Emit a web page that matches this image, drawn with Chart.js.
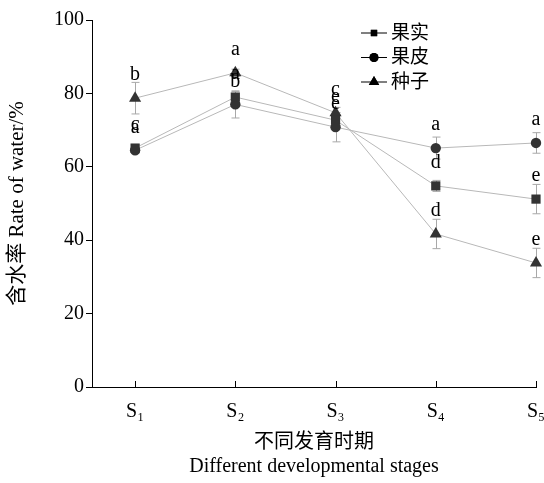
<!DOCTYPE html>
<html>
<head>
<meta charset="utf-8">
<script src="https://cdn.jsdelivr.net/npm/chart.js@4"></script>
<style>
  body { margin: 0; background: #fff; }
  #wrap { width: 544px; height: 483px; }
</style>
</head>
<body>
<div id="wrap"><canvas id="chart"></canvas></div>
<script>
// Data
const stages = ['S₁', 'S₂', 'S₃', 'S₄', 'S₅'];
const seriesNames = ['果实', '果皮', '种子'];
const fruit = [65.1, 79.0, 72.7, 54.8, 51.2];
const fruitErr = [1.0, 1.5, 1.5, 1.5, 4.0];
const fruitLetters = ['c', 'a', 'e', 'd', 'e'];
const peel = [64.5, 77.0, 70.8, 65.1, 66.5];
const peelErr = [0.8, 3.7, 4.0, 3.0, 2.8];
const peelLetters = ['a', 'b', 'e', 'a', 'a'];
const seed = [78.7, 85.6, 74.7, 41.7, 33.8];
const seedErr = [4.3, 1.0, 1.5, 4.0, 4.0];
const seedLetters = ['b', 'a', 'c', 'd', 'e'];
const yTicks = [0, 20, 40, 60, 80, 100];

const serif = '"Liberation Serif", "Noto Sans CJK SC", serif';
const lineColor = '#b8b8b8';
const markColor = '#333333';

function toPoints(arr) {
    return arr.map((v, i) => ({ x: i + 1, y: v }));
}

const errors = [fruitErr, peelErr, seedErr];
const letters = [fruitLetters, peelLetters, seedLetters];

// error bars + letters drawn through the chart scales
const extras = {
    id: 'extras',
    beforeDatasetsDraw(c) {
        const { ctx, scales: { x, y } } = c;
        ctx.save();
        ctx.strokeStyle = '#a8a8a8';
        ctx.lineWidth = 1;
        c.data.datasets.forEach((ds, di) => {
            ds.data.forEach((p, i) => {
                const e = errors[di][i];
                const px = Math.round(x.getPixelForValue(p.x)) + 0.5;
                const top = y.getPixelForValue(p.y + e);
                const bot = y.getPixelForValue(p.y - e);
                ctx.beginPath();
                ctx.moveTo(px, top); ctx.lineTo(px, bot);
                ctx.moveTo(px - 4, top); ctx.lineTo(px + 4, top);
                ctx.moveTo(px - 4, bot); ctx.lineTo(px + 4, bot);
                ctx.stroke();
            });
        });
        // inward x ticks
        ctx.strokeStyle = '#000';
        stages.forEach((s, i) => {
            const px = Math.round(x.getPixelForValue(i + 1)) + 0.5;
            ctx.beginPath();
            ctx.moveTo(px, y.bottom); ctx.lineTo(px, y.bottom - 6);
            ctx.stroke();
        });
        ctx.restore();
    },
    afterDatasetsDraw(c) {
        const { ctx, scales: { x, y } } = c;
        ctx.save();
        ctx.fillStyle = '#000';
        ctx.font = '20px ' + serif;
        ctx.textAlign = 'center';
        ctx.textBaseline = 'middle';
        c.data.datasets.forEach((ds, di) => {
            ds.data.forEach((p, i) => {
                const px = x.getPixelForValue(p.x);
                const py = y.getPixelForValue(p.y);
                ctx.fillText(letters[di][i], px, py - 23);
            });
        });
        // legend
        const styles = ['rect', 'circle', 'triangle'];
        ctx.textAlign = 'left';
        ctx.font = '19px ' + serif;
        styles.forEach((st, i) => {
            const ly = 33 + i * 24.5;
            ctx.strokeStyle = '#000';
            ctx.lineWidth = 1;
            ctx.beginPath();
            ctx.moveTo(361, ly); ctx.lineTo(387, ly);
            ctx.stroke();
            Chart.helpers.drawPoint(ctx, { pointStyle: st, radius: st === 'triangle' ? 6 : 4.5, borderWidth: 0 }, 374, ly);
            ctx.fillStyle = '#000';
            ctx.fill();
            ctx.fillText(seriesNames[i], 391, ly + 1);
        });
        ctx.restore();
    }
};

function makeSet(label, arr, style, r) {
    return {
        label: label,
        data: toPoints(arr),
        borderColor: lineColor,
        borderWidth: 1,
        pointStyle: style,
        pointRadius: r,
        pointBackgroundColor: markColor,
        pointBorderColor: markColor,
        pointBorderWidth: 0,
        tension: 0,
        clip: false
    };
}

new Chart(document.getElementById('chart'), {
    type: 'line',
    data: {
        datasets: [
            makeSet(seriesNames[0], fruit, 'rect', 6.5),
            makeSet(seriesNames[1], peel, 'circle', 5.2),
            makeSet(seriesNames[2], seed, 'triangle', 7)
        ]
    },
    options: {
        responsive: true,
        maintainAspectRatio: false,
        animation: false,
        layout: { padding: { top: 20, right: 8, left: 0, bottom: 0 } },
        plugins: { legend: { display: false }, tooltip: { enabled: false } },
        scales: {
            x: {
                type: 'linear',
                min: 0.57,
                max: 5,
                afterBuildTicks(ax) {
                    ax.ticks = stages.map((s, i) => ({ value: i + 1 }));
                },
                afterFit(ax) {
                    ax.height = 96;
                    ax.paddingRight = 0;
                    ax.paddingLeft = 0;
                },
                grid: { display: false },
                border: { color: '#000', width: 1 },
                ticks: {
                    color: '#000',
                    font: { family: serif, size: 20 },
                    padding: 5,
                    callback: v => stages[v - 1]
                },
                title: {
                    display: true,
                    text: ['不同发育时期', 'Different developmental stages'],
                    color: '#000',
                    font: { family: serif, size: 20, lineHeight: 1.2 },
                    padding: { top: 0, bottom: 4 }
                }
            },
            y: {
                min: 0,
                max: 100,
                afterBuildTicks(ax) {
                    ax.ticks = yTicks.map(v => ({ value: v }));
                },
                afterFit(ax) { ax.width = 92; },
                grid: { drawOnChartArea: false, tickLength: 6, color: '#000' },
                border: { color: '#000', width: 1 },
                ticks: {
                    color: '#000',
                    font: { family: serif, size: 20 },
                    padding: 2
                },
                title: {
                    display: true,
                    text: '含水率 Rate of water/%',
                    color: '#000',
                    font: { family: serif, size: 21, lineHeight: 1.2 },
                    padding: { top: 5, bottom: 0 }
                }
            }
        }
    },
    plugins: [extras]
});
</script>
</body>
</html>
